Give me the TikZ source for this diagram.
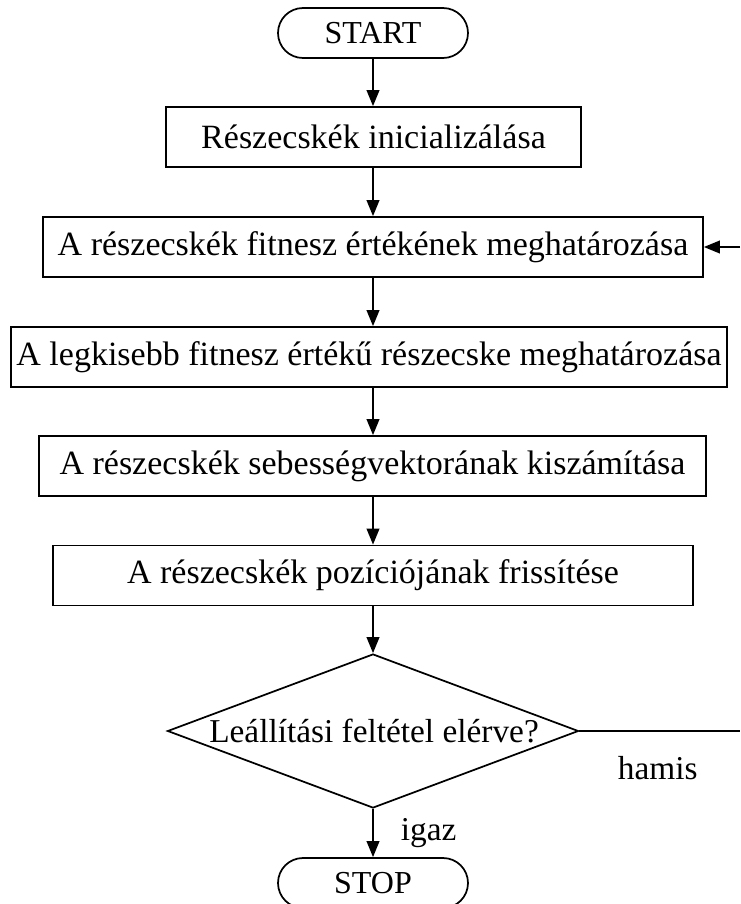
\documentclass[tikz,border=0pt]{standalone}
\usepackage{fontspec}
\setmainfont{Liberation Serif}
\usetikzlibrary{shapes.geometric,shapes.misc,arrows.meta}

\tikzset{every picture/.style={line width=1.3pt}}
\tikzset{
  terminal/.style={draw, rounded rectangle, minimum width=142.5pt, minimum height=37.5pt, inner sep=0pt, font=\fontsize{24}{26}\selectfont},
  procbox/.style={draw, rectangle, minimum height=45pt, inner sep=0pt, font=\fontsize{25.5}{28}\selectfont},
  decision/.style={draw, diamond, minimum width=308.25pt, minimum height=115.5pt, inner sep=0pt},
  flowarrow/.style={-{Triangle[length=12pt,width=9.5pt]}},
  edgelabel/.style={inner sep=0pt, font=\fontsize{25}{28}\selectfont}
}

\begin{document}
\begin{tikzpicture}[x=0.75pt,y=0.75pt,yscale=-1,xscale=1]
\useasboundingbox (0,0) rectangle (740,904);

%Terminal: START
\node [terminal] (start) at (373,33) {START};
%Process boxes
\node [procbox, minimum width=311.25pt] (init) at (373.5,137) {Részecskék inicializálása};
\node [procbox, minimum width=495pt] (fitness) at (373,247) {A részecskék fitnesz értékének meghatározása};
\node [procbox, minimum width=537pt] (best) at (369,357) {A legkisebb fitnesz értékű részecske meghatározása};
\node [procbox, minimum width=500.25pt] (velocity) at (372.5,466) {A részecskék sebességvektorának kiszámítása};
\node [procbox, minimum width=480pt] (position) at (373,575.5) {A részecskék pozíciójának frissítése};
%Decision
\node [decision] (cond) at (373,731) {};
\node [edgelabel] (condtext) at (374,731) {Leállítási feltétel elérve?};
%Terminal: STOP
\node [terminal] (stop) at (373,883) {STOP};

%Straight Lines
\draw [flowarrow] (start) -- (start |- init.north);
\draw [flowarrow] (start |- init.south) -- (start |- fitness.north);
\draw [flowarrow] (start |- fitness.south) -- (start |- best.north);
\draw [flowarrow] (start |- best.south) -- (start |- velocity.north);
\draw [flowarrow] (start |- velocity.south) -- (start |- position.north);
\draw [flowarrow] (start |- position.south) -- (cond.north);
\draw [flowarrow] (cond.south) -- (stop);
%Loop back (hamis)
\coordinate (loopout) at (740,731);
\coordinate (loopin) at (740,247);
\draw (cond.east) -- (loopout);
\draw [flowarrow] (loopin) -- (fitness.east);

% Text Node
\node [edgelabel, anchor=base west] (hamis) at (617,779) {hamis};
% Text Node
\node [edgelabel, anchor=base west] (igaz) at (400,840) {igaz};

\end{tikzpicture}
\end{document}
